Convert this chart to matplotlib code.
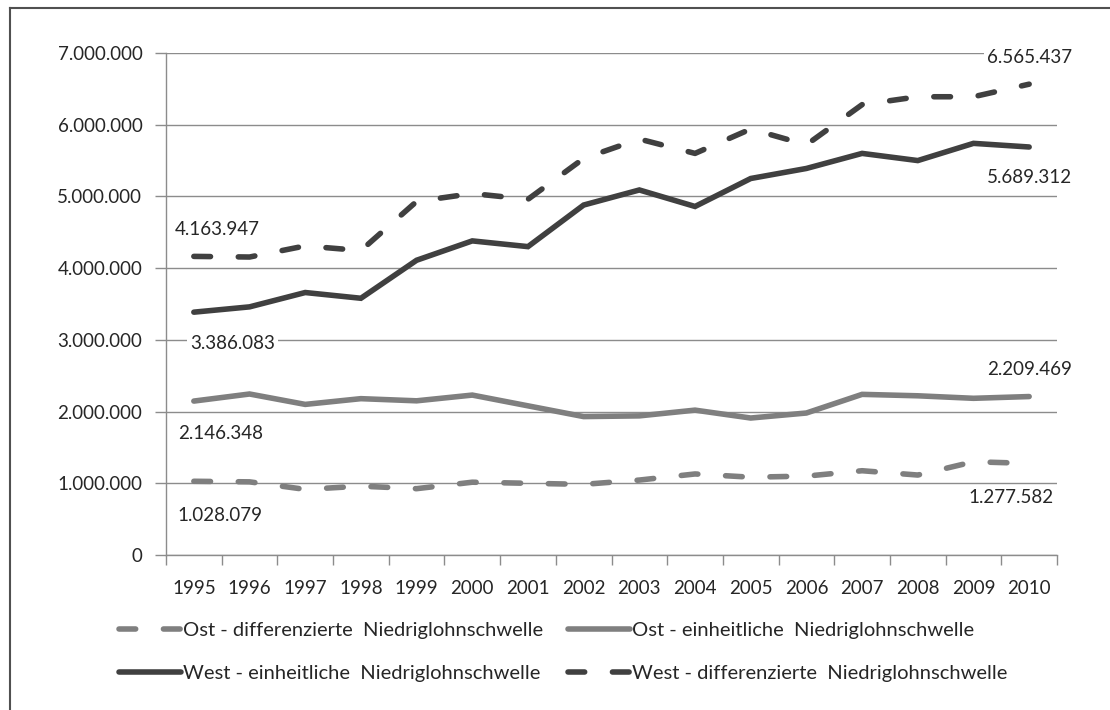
import matplotlib
matplotlib.use('Agg')
import matplotlib.pyplot as plt
from matplotlib.ticker import FuncFormatter
from matplotlib.lines import Line2D

plt.rcParams['font.family'] = ['Lato', 'DejaVu Sans']

years = list(range(1995, 2011))
ost_diff = [1028079, 1020000, 915000, 960000, 925000, 1015000, 1000000, 985000,
            1045000, 1130000, 1085000, 1100000, 1175000, 1115000, 1300000, 1277582]
ost_einh = [2146348, 2245000, 2100000, 2180000, 2150000, 2230000, 2080000, 1930000,
            1940000, 2020000, 1910000, 1980000, 2240000, 2220000, 2185000, 2209469]
west_einh = [3386083, 3460000, 3660000, 3580000, 4110000, 4380000, 4300000, 4880000,
             5090000, 4860000, 5250000, 5390000, 5600000, 5500000, 5740000, 5689312]
west_diff = [4163947, 4155000, 4310000, 4245000, 4930000, 5040000, 4960000, 5530000,
             5800000, 5600000, 5940000, 5720000, 6280000, 6390000, 6390000, 6565437]
y_ticks = [0, 1000000, 2000000, 3000000, 4000000, 5000000, 6000000, 7000000]

names = ['Ost - differenzierte  Niedriglohnschwelle',
         'Ost - einheitliche  Niedriglohnschwelle',
         'West - einheitliche  Niedriglohnschwelle',
         'West - differenzierte  Niedriglohnschwelle']

DARK = '#404040'
GRAY = '#7f7f7f'
GRID = '#8c8c8c'
TXT = '#262626'
FS = 13.5
LFS = 14.5

def fmt(v, pos=None):
    return f"{int(round(v)):,}".replace(',', '.')

fig = plt.figure(figsize=(11.1, 7.1), dpi=100)
W, H = 1110, 710
ax = fig.add_axes([166 / W, (H - 555) / H, 891 / W, 502 / H])

dash = (0, (3.0, 5.0))
lw = 4.0
l_od, = ax.plot(years, ost_diff, color=GRAY, lw=lw, ls=dash, dash_capstyle='round',
                solid_capstyle='round', label=names[0], zorder=3)
l_oe, = ax.plot(years, ost_einh, color=GRAY, lw=lw, solid_capstyle='round',
                solid_joinstyle='miter', label=names[1], zorder=3)
l_we, = ax.plot(years, west_einh, color=DARK, lw=lw, solid_capstyle='round',
                solid_joinstyle='miter', label=names[2], zorder=3)
l_wd, = ax.plot(years, west_diff, color=DARK, lw=lw, ls=dash, dash_capstyle='round',
                label=names[3], zorder=3)

ax.set_xlim(years[0] - 0.5, years[-1] + 0.5)
ax.set_ylim(y_ticks[0], y_ticks[-1])
ax.set_yticks(y_ticks)
ax.yaxis.set_major_formatter(FuncFormatter(fmt))
ax.set_xticks(years)
ax.set_xticklabels([str(y) for y in years])
ax.set_xticks([y - 0.5 for y in years] + [years[-1] + 0.5], minor=True)
ax.tick_params(axis='x', which='major', length=0, pad=18, labelsize=FS, labelcolor=TXT)
ax.tick_params(axis='x', which='minor', length=7, width=1, color=GRID, direction='out')
ax.tick_params(axis='y', which='major', length=8, width=1, color=GRID, direction='out',
               pad=9, labelsize=FS, labelcolor=TXT)
ax.yaxis.grid(True, color=GRID, lw=1)
ax.set_axisbelow(True)
for s in ['top', 'right']:
    ax.spines[s].set_visible(False)
for s in ['left', 'bottom']:
    ax.spines[s].set_color(GRID)
    ax.spines[s].set_linewidth(1)

bb = dict(fc='white', ec='none', pad=2)
def lab(x, y, dx, dy, ha):
    ax.annotate(fmt(y), xy=(x, y), xytext=(dx, dy), textcoords='offset points',
                ha=ha, va='center', fontsize=FS, color=TXT, bbox=bb, zorder=4)

lab(years[0], west_diff[0], -13.7, 19.1, 'left')
lab(years[0], west_einh[0], -2.9, -22.3, 'left')
lab(years[-1], west_diff[-1], 31.0, 19.4, 'right')
lab(years[-1], west_einh[-1], 31.0, -22.3, 'right')
lab(years[0], ost_einh[0], -11.5, -23.0, 'left')
lab(years[0], ost_diff[0], -11.5, -24.5, 'left')
lab(years[-1], ost_einh[-1], 31.0, 19.4, 'right')
lab(years[-1], ost_diff[-1], 17.3, -24.5, 'right')

leg = fig.legend(handles=[l_od, l_we, l_oe, l_wd], ncol=2, frameon=False,
                 loc='upper left', bbox_to_anchor=(119 / W, 1 - 622 / H),
                 fontsize=LFS, handlelength=3.1, handletextpad=0.1,
                 columnspacing=1.2, labelspacing=1.3, borderpad=0, borderaxespad=0)
for t in leg.get_texts():
    t.set_color(TXT)

fig.add_artist(Line2D([10 / W, 1], [1 - 8 / H, 1 - 8 / H], transform=fig.transFigure,
                      color='#505050', lw=1.5))
fig.add_artist(Line2D([10 / W, 10 / W], [0, 1 - 8 / H], transform=fig.transFigure,
                      color='#505050', lw=1.5))

fig.savefig('out.png', dpi=100, facecolor='white')
